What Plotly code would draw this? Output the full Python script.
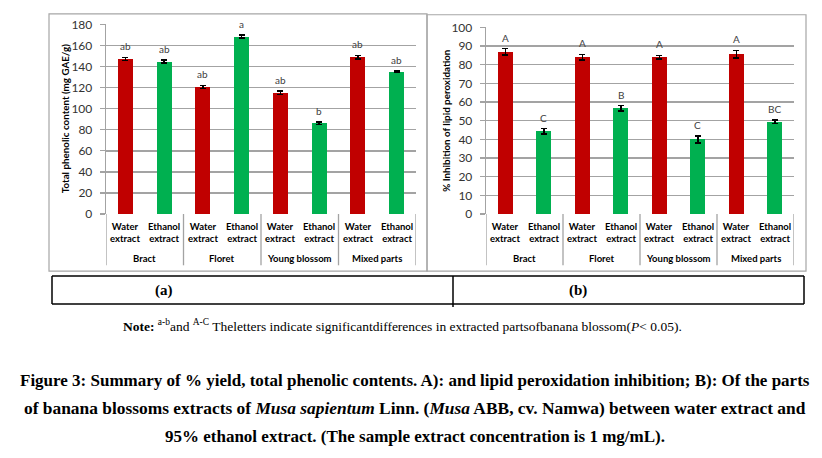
import plotly.graph_objects as go

W, H = 822, 458

# ---------------- data ----------------
groups = ["Bract", "Floret", "Young blossom", "Mixed parts"]
extracts = ["Water<br>extract", "Ethanol<br>extract"]

tpc_water = [147.3, 120.6, 115.2, 148.8]
tpc_water_err = [1.5, 1.6, 1.5, 1.8]
tpc_water_letters = ["ab", "ab", "ab", "ab"]
tpc_ethanol = [144.8, 168.5, 86.1, 135.2]
tpc_ethanol_err = [1.5, 1.5, 1.2, 0.6]
tpc_ethanol_letters = ["ab", "a", "b", "ab"]

lpo_water = [86.9, 84.0, 84.0, 85.7]
lpo_water_err = [1.7, 1.5, 1.0, 2.0]
lpo_water_letters = ["A", "A", "A", "A"]
lpo_ethanol = [44.3, 56.6, 40.0, 49.5]
lpo_ethanol_err = [1.5, 1.5, 1.9, 1.0]
lpo_ethanol_letters = ["C", "B", "C", "BC"]

y_titles = ["Total phenolic content (mg GAE/g)", "% Inhibition of lipid peroxidation"]
panel_labels = ["(a)", "(b)"]

RED = "#C00000"
GREEN = "#00B050"
GRID = "#a3a3a3"
FONT = "Lato"
SERIF = "Liberation Serif"


def px(x):
    return x / W


def py(y):
    return 1 - y / H


def ann(**kw):
    d = dict(showarrow=False, xanchor="center", yanchor="middle")
    d.update(kw)
    return d


water_x = [2 * i for i in range(len(groups))]
eth_x = [2 * i + 1 for i in range(len(groups))]

fig = go.Figure()

panels = [
    dict(xa="x", ya="y", xdom=(106, 416), ydom=(17, 213), yr=180, dt=20,
         w=tpc_water, we=tpc_water_err, wl=tpc_water_letters,
         e=tpc_ethanol, ee=tpc_ethanol_err, el=tpc_ethanol_letters,
         title_x=65, frame=(49, 6, 427, 272)),
    dict(xa="x2", ya="y2", xdom=(486, 794), ydom=(20, 213), yr=100, dt=10,
         w=lpo_water, we=lpo_water_err, wl=lpo_water_letters,
         e=lpo_ethanol, ee=lpo_ethanol_err, el=lpo_ethanol_letters,
         title_x=446, frame=(427, 7, 806, 272)),
]

shapes = []
annotations = []

for k, p in enumerate(panels):
    for xs, ys, es, col in [(water_x, p["w"], p["we"], RED), (eth_x, p["e"], p["ee"], GREEN)]:
        fig.add_trace(go.Bar(
            x=xs, y=ys, xaxis=p["xa"], yaxis=p["ya"], width=0.39,
            marker=dict(color=col, line=dict(width=0)),
            error_y=dict(type="data", array=es, color="black", thickness=1.5, width=3),
            showlegend=False,
        ))
    # significance letters
    for xs, ys, es, ls in [(water_x, p["w"], p["we"], p["wl"]), (eth_x, p["e"], p["ee"], p["el"])]:
        for xv, yv, ev, lt in zip(xs, ys, es, ls):
            annotations.append(ann(x=xv, y=yv + ev, xref=p["xa"], yref=p["ya"], text=lt,
                                   yshift=11, font=dict(family=FONT, size=10, color="#404040")))
    # category labels
    for i in range(len(groups)):
        for j, lab in enumerate(extracts):
            annotations.append(ann(x=2 * i + j, y=py(232), xref=p["xa"], yref="paper",
                                   text="<b>" + lab + "</b>",
                                   font=dict(family=FONT, size=9.5, color="black")))
        annotations.append(ann(x=2 * i + 0.5, y=py(259), xref=p["xa"], yref="paper",
                               text="<b>" + groups[i] + "</b>",
                               font=dict(family=FONT, size=9.5, color="black")))
    # group separators
    for sx in [-0.5, 1.5, 3.5, 5.5, 7.5]:
        shapes.append(dict(type="line", xref=p["xa"], yref="paper", x0=sx, x1=sx,
                           y0=py(p["ydom"][1]), y1=py(266), line=dict(color=GRID, width=1.3)))
    # y title
    yc = (p["ydom"][0] + p["ydom"][1]) / 2
    annotations.append(ann(x=px(p["title_x"]), y=py(yc), xref="paper", yref="paper",
                           text="<b>" + y_titles[k] + "</b>", textangle=-90,
                           font=dict(family=FONT, size=9.8, color="black")))
    # frame
    fx0, fy0, fx1, fy1 = p["frame"]
    shapes.append(dict(type="rect", xref="paper", yref="paper", x0=px(fx0), x1=px(fx1),
                       y0=py(fy1), y1=py(fy0), line=dict(color="#a6a6a6", width=1.2)))

# axes
common_x = dict(range=[-0.5, 7.5], showticklabels=False, showgrid=False, zeroline=False,
                showline=False, ticks="", fixedrange=True)
common_y = dict(showgrid=True, gridcolor=GRID, gridwidth=1.4, zeroline=False,
                showline=True, linecolor=GRID, linewidth=1.3, ticks="outside", ticklen=5,
                tickcolor=GRID, tickwidth=1.3, tickfont=dict(family=FONT, size=12, color="#333333"),
                ticklabelstandoff=5)

fig.update_layout(
    xaxis=dict(domain=[px(106), px(416)], anchor="y", **common_x),
    yaxis=dict(domain=[py(213), py(17)], range=[0, 180], dtick=20, anchor="x", **common_y),
    xaxis2=dict(domain=[px(486), px(794)], anchor="y2", **common_x),
    yaxis2=dict(domain=[py(213), py(20)], range=[0, 100], dtick=10, anchor="x2", **common_y),
)

# table below charts
TL, TM, TR, TT, TB = 52, 453, 804, 277, 306
for (x0, y0, x1, y1) in [(TL, TT, TR, TT), (TL, TB, TR, TB), (TL, TT, TL, TB),
                         (TM, TT, TM, TB + 3), (TR, TT, TR, TB)]:
    shapes.append(dict(type="line", xref="paper", yref="paper", x0=px(x0), x1=px(x1),
                       y0=py(y0), y1=py(y1), line=dict(color="black", width=1.5)))
for xx, lab in zip([164, 578], panel_labels):
    annotations.append(ann(x=px(xx), y=py(292), xref="paper", yref="paper",
                           text="<b>" + lab + "</b>",
                           font=dict(family=SERIF, size=15, color="black")))

note = ("<b>Note:</b> <sup>a-b</sup>and <sup>A-C</sup> Theletters indicate significantdifferences "
        "in extracted partsofbanana blossom(<i>P</i>&lt; 0.05).")
annotations.append(ann(x=px(402), y=py(328), xref="paper", yref="paper", text=note,
                       font=dict(family=SERIF, size=13.5, color="black")))

caption_lines = [
    "Figure 3: Summary of % yield, total phenolic contents. A): and lipid peroxidation inhibition; B): Of the parts",
    "of banana blossoms extracts of <i>Musa sapientum</i> Linn. (<i>Musa</i> ABB, cv. Namwa) between water extract and",
    "95% ethanol extract. (The sample extract concentration is 1 mg/mL).",
]
caption_sizes = [17, 17.4, 17]
for yy, line, sz in zip([385, 414, 443], caption_lines, caption_sizes):
    annotations.append(ann(x=px(415), y=py(yy), xref="paper", yref="paper",
                           text="<b>" + line + "</b>",
                           font=dict(family=SERIF, size=sz, color="black")))

fig.update_layout(
    width=W, height=H, margin=dict(l=0, r=0, t=0, b=0),
    paper_bgcolor="white", plot_bgcolor="white",
    bargap=0, barmode="overlay",
    shapes=shapes, annotations=annotations,
)

fig.write_html("out.html", config={"displayModeBar": False, "staticPlot": True})
